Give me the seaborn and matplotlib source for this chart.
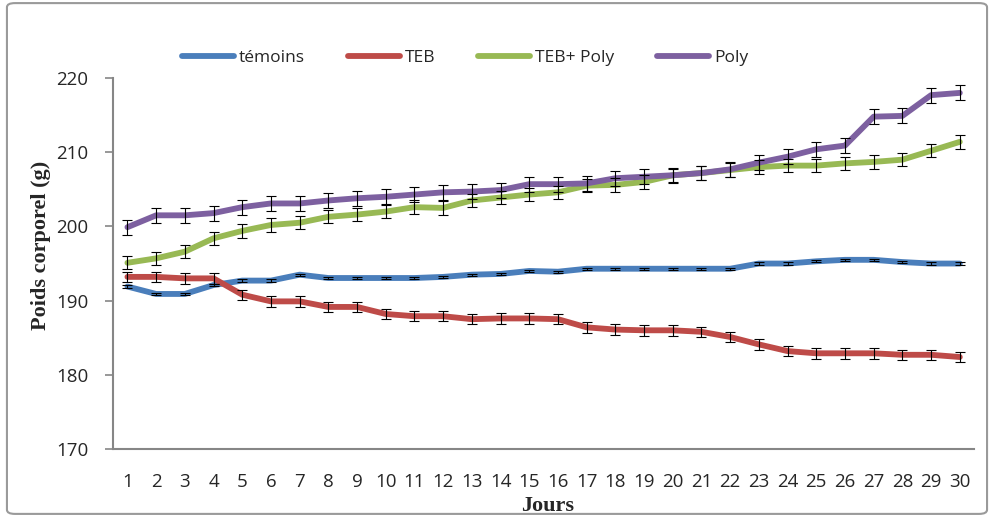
import matplotlib
matplotlib.use("Agg")
import matplotlib.pyplot as plt
import seaborn as sns
import numpy as np
import pandas as pd
from matplotlib.patches import FancyBboxPatch

jours = list(range(1, 31))

temoins = [191.9, 190.9, 190.9, 192.1, 192.7, 192.7, 193.5, 193.05, 193.05, 193.05,
           193.05, 193.2, 193.5, 193.6, 194.0, 193.9, 194.3, 194.3, 194.3, 194.3,
           194.3, 194.3, 195.0, 195.0, 195.3, 195.5, 195.5, 195.2, 195.0, 195.0]
teb = [193.2, 193.2, 193.0, 193.0, 190.8, 189.9, 189.9, 189.15, 189.15, 188.2,
       187.9, 187.9, 187.5, 187.6, 187.6, 187.5, 186.4, 186.1, 186.0, 186.0,
       185.8, 185.1, 184.1, 183.2, 182.9, 182.9, 182.9, 182.7, 182.7, 182.4]
teb_poly = [195.1, 195.7, 196.6, 198.4, 199.4, 200.2, 200.5, 201.3, 201.6, 202.0,
            202.6, 202.5, 203.5, 203.9, 204.3, 204.6, 205.5, 205.6, 206.0, 206.9,
            207.2, 207.6, 208.0, 208.2, 208.2, 208.5, 208.7, 209.0, 210.2, 211.4]
poly = [199.9, 201.5, 201.5, 201.8, 202.6, 203.1, 203.1, 203.5, 203.8, 204.0,
        204.3, 204.6, 204.7, 204.9, 205.7, 205.7, 205.8, 206.5, 206.7, 206.9,
        207.2, 207.7, 208.6, 209.4, 210.4, 210.9, 214.8, 214.9, 217.7, 218.0]

err_temoins = [0.15] * 30
err_teb = [0.7] * 30
err_teb_poly = [0.9] * 30
err_poly = [1.0] * 30

groupes = ["témoins", "TEB", "TEB+ Poly", "Poly"]
couleurs = ["#4a7ebb", "#be4b48", "#98b954", "#7d60a0"]

df = pd.DataFrame({
    "Jours": jours * 4,
    "Poids": temoins + teb + teb_poly + poly,
    "err": err_temoins + err_teb + err_teb_poly + err_poly,
    "Groupe": sum([[g] * 30 for g in groupes], []),
})

sns.set_style("white")
plt.rcParams["font.family"] = ["Open Sans", "DejaVu Sans"]

fig = plt.figure(figsize=(9.92, 5.17), dpi=100)
ax = fig.add_axes([0.114, 0.1315, 0.868, 0.7175])

sns.lineplot(data=df, x="Jours", y="Poids", hue="Groupe", hue_order=groupes,
             palette=couleurs, linewidth=4.2, ax=ax, legend=True)

for g in groupes:
    d = df[df["Groupe"] == g]
    ax.errorbar(d["Jours"], d["Poids"], yerr=d["err"], fmt="none",
                ecolor="black", elinewidth=0.8, capsize=3.5, capthick=0.8, zorder=3)

ax.set_xlim(0.5, 30.5)
ax.set_ylim(170, 220)
ax.set_yticks(range(170, 221, 10))
ax.set_xticks(jours)
ax.set_xticks(np.arange(0.5, 31, 1), minor=True)
ax.tick_params(axis="x", which="major", length=0, labelsize=13.5, pad=17)
ax.tick_params(axis="x", which="minor", length=6, color="#868686", width=1.2, direction="out")
ax.tick_params(axis="y", which="major", length=6, color="#868686", width=1.2, labelsize=13.5,
               direction="out", pad=12)
ax.tick_params(bottom=True, left=True)

for s in ["top", "right"]:
    ax.spines[s].set_visible(False)
for s in ["left", "bottom"]:
    ax.spines[s].set_color("#868686")
    ax.spines[s].set_linewidth(1.5)

ax.set_xlabel("Jours", fontsize=16, fontweight="bold", family="Liberation Serif")
ax.set_ylabel("Poids corporel (g)", fontsize=16, fontweight="bold", family="Liberation Serif")
ax.xaxis.set_label_coords(0.505, -0.127)
ax.yaxis.set_label_coords(-0.072, 0.55)

handles, labels = ax.get_legend_handles_labels()
ax.legend(handles, labels, ncol=4, frameon=False, fontsize=12.5, handlelength=3.0,
          columnspacing=2.45, handletextpad=0.3, loc="center", bbox_to_anchor=(0.469, 0.888),
          bbox_transform=fig.transFigure)

cadre = FancyBboxPatch((0.007, 0.006), 0.988, 0.988, boxstyle="round,pad=0,rounding_size=0.008",
                       transform=fig.transFigure, fill=False, edgecolor="#9a9a9a", linewidth=1.5)
fig.patches.append(cadre)

fig.savefig("out.png", dpi=100)
